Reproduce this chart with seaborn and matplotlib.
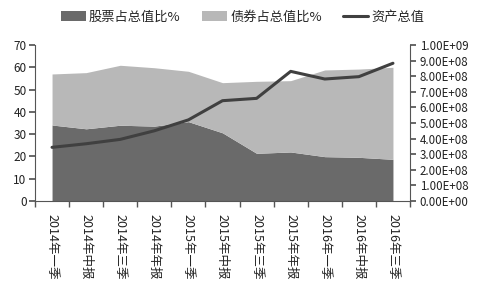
import matplotlib
matplotlib.use("Agg")
import matplotlib.pyplot as plt
import seaborn as sns
import numpy as np
import pandas as pd
from matplotlib.patches import Patch
from matplotlib.lines import Line2D
from matplotlib.ticker import FuncFormatter, FixedLocator

categories = ["2014年一季", "2014年中报", "2014年三季", "2014年年报",
              "2015年一季", "2015年中报", "2015年三季", "2015年年报",
              "2016年一季", "2016年中报", "2016年三季"]
stock_pct = [34.1, 32.4, 34.0, 33.6, 35.6, 30.6, 21.4, 22.0, 19.9, 19.6, 18.7]
bond_pct = [22.9, 25.2, 26.9, 26.2, 22.6, 22.5, 32.3, 32.0, 38.9, 39.6, 41.3]
total_assets = [3.44e8, 3.67e8, 3.95e8, 4.50e8, 5.20e8, 6.43e8, 6.58e8, 8.31e8, 7.82e8, 7.97e8, 8.83e8]
left_ticks = [0, 10, 20, 30, 40, 50, 60, 70]
right_ticks = [0, 1e8, 2e8, 3e8, 4e8, 5e8, 6e8, 7e8, 8e8, 9e8, 1e9]

sns.set_theme(style="white")
plt.rcParams['font.family'] = ['Noto Sans CJK SC', 'DejaVu Sans']

df = pd.DataFrame({"cat": categories, "x": np.arange(len(categories)),
                   "stock": stock_pct, "bond": bond_pct, "assets": total_assets})

dark = "#6a6a6a"
light = "#b8b8b8"
linec = "#404040"

fig = plt.figure(figsize=(4.8, 2.86), dpi=100)
ax = fig.add_axes([35/480, 1-201/286, (410-35)/480, (201-45)/286])
ax.stackplot(df["x"], df["stock"], df["bond"], colors=[dark, light], linewidth=0)
ax.set_xlim(-0.5, len(categories) - 0.5)
ax.set_ylim(0, 70)
ax.yaxis.set_major_locator(FixedLocator(left_ticks))
ax.set_xticks(df["x"])
ax.set_xticklabels(categories, rotation=270, fontsize=9, color="#222222")
ax.set_xticks(np.arange(-0.5, len(categories)), minor=True)
ax.tick_params(axis="x", which="major", length=0, pad=9)
ax.tick_params(axis="x", which="minor", length=4, color="#555555", direction="out", bottom=True)
ax.tick_params(axis="y", length=4, color="#555555", direction="out", left=True, labelsize=8.5, labelcolor="#222222", pad=2)
for s in ["top", "right"]:
    ax.spines[s].set_visible(False)
for s in ["left", "bottom"]:
    ax.spines[s].set_color("#555555")
    ax.spines[s].set_linewidth(0.8)

ax2 = ax.twinx()
sns.lineplot(data=df, x="x", y="assets", ax=ax2, color=linec, linewidth=2.2)
ax2.set_ylim(0, 1e9)
ax2.set_xlim(-0.5, len(categories) - 0.5)
ax2.yaxis.set_major_locator(FixedLocator(right_ticks))
ax2.yaxis.set_major_formatter(FuncFormatter(lambda v, p: f"{v:.2E}"))
ax2.set_ylabel("")
ax2.set_xlabel("")
ax.set_xlabel("")
ax.set_ylabel("")
ax2.tick_params(axis="y", length=4, color="#555555", direction="out", right=True, labelsize=8.3, labelcolor="#222222", pad=3)
for s in ["top", "left", "bottom"]:
    ax2.spines[s].set_visible(False)
ax2.spines["right"].set_color("#555555")
ax2.spines["right"].set_linewidth(0.8)

handles = [Patch(facecolor=dark, edgecolor="none"),
           Patch(facecolor=light, edgecolor="none"),
           Line2D([0], [0], color=linec, linewidth=2.2)]
labels = ["股票占总值比%", "债券占总值比%", "资产总值"]
fig.legend(handles, labels, loc="center", bbox_to_anchor=(0.505, 1-17/286), ncol=3,
           frameon=False, fontsize=9.5, handlelength=1.9, handleheight=0.8,
           handletextpad=0.25, columnspacing=1.6)

fig.savefig("out.png", dpi=100, facecolor="white")
